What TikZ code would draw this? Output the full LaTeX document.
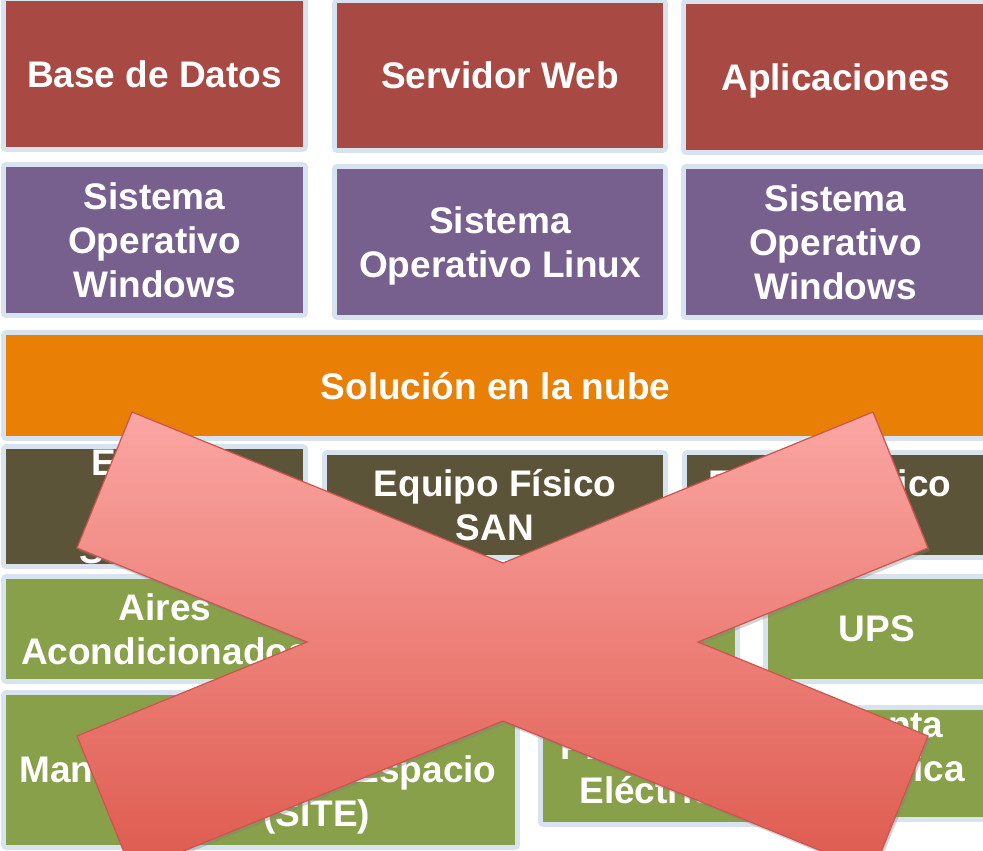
\documentclass[tikz,border=0pt]{standalone}
\usepackage{fontspec}
\setmainfont{Liberation Sans}
\usetikzlibrary{shadows}

\definecolor{rojo}{RGB}{168,74,67}
\definecolor{morado}{RGB}{119,96,141}
\definecolor{naranja}{RGB}{233,127,4}
\definecolor{oliva}{RGB}{92,84,56}
\definecolor{verde}{RGB}{137,160,74}
\definecolor{marco}{RGB}{216,227,240}
\definecolor{cruzarriba}{RGB}{251,166,163}
\definecolor{cruzabajo}{RGB}{222,90,78}
\definecolor{cruzborde}{RGB}{205,84,76}

\begin{document}
\begin{tikzpicture}[x=1pt, y=-1pt,
        letra/.style={font=\bfseries\fontsize{37}{44}\selectfont, text=white, align=center, text depth=0pt},
        caja/.style={letra, rectangle, inner sep=0pt,
            preaction={draw=marco, line width=10pt, line join=round}},
        texto/.style={letra, inner sep=0pt},
        cruz/.style={draw=cruzborde, line width=1.2pt, line join=miter,
            top color=cruzarriba, bottom color=cruzabajo,
            drop shadow={opacity=0.35, shadow xshift=2pt, shadow yshift=-3pt}}]
        \useasboundingbox (0,0) rectangle (983,851);

        \node[caja, fill=rojo, minimum width=297pt, minimum height=146pt] (bd) at (154.5,74) {Base de Datos};
        \node[caja, fill=rojo, minimum width=326pt, minimum height=145pt] (web) at (500,75.5) {Servidor Web};
        \node[caja, fill=rojo, minimum width=299pt, minimum height=146pt] (apl) at (835.5,77) {Aplicaciones};

        \node[caja, fill=morado, minimum width=297pt, minimum height=146pt] (win1) at (154.5,240) {Sistema\\Operativo\\Windows};
        \node[caja, fill=morado, minimum width=326pt, minimum height=146pt] (linux) at (500,242) {Sistema\\Operativo Linux};
        \node[caja, fill=morado, minimum width=299pt, minimum height=146pt] (win2) at (835.5,242) {Sistema\\Operativo\\Windows};

        \node[caja, fill=naranja, minimum width=979pt, minimum height=101pt] (nube) at (495.5,385.5) {Solución en la nube};

        \node[caja, fill=oliva, minimum width=297pt, minimum height=101pt] (serv) at (154.5,506.5) {Equipo\\Físico\\Servidor};
        \node[caja, fill=oliva, minimum width=336pt, minimum height=100pt] (san) at (495,505) {Equipo Físico\\SAN};
        \node[caja, fill=oliva, minimum width=298pt, minimum height=100pt] (red) at (836,505) {};
        \node[texto] (redtxt) at (830,505) {Equipo Físico\\Redes};

        \node[caja, fill=verde, minimum width=318pt, minimum height=100pt] (aires) at (165,629) {Aires\\Acondicionados};
        \node[caja, fill=verde, minimum width=389pt, minimum height=100pt] (medio) at (540.5,629) {};
        \node[caja, fill=verde, minimum width=218pt, minimum height=100pt] (ups) at (877,629) {UPS};

        \node[caja, fill=verde, minimum width=509pt, minimum height=150pt] (site) at (260.5,770) {};
        \node[texto] (sitetxt) at (258,791.5) {Mantenimiento del Espacio\\Físico (SITE)};
        \node[caja, fill=verde, minimum width=227pt, minimum height=109pt] (prot) at (656.5,767.5) {Protección\\Eléctrica};
        \node[caja, fill=verde, minimum width=192pt, minimum height=107pt] (planta) at (888,763.5) {};
        \node[texto] (plantatxt) at (888,746) {Planta\\Eléctrica};

        \coordinate (xa) at (132,412);
        \coordinate (xb) at (503,563);
        \coordinate (xc) at (873,412);
        \coordinate (xd) at (928,548);
        \coordinate (xe) at (698,642);
        \coordinate (xf) at (928,736);
        \coordinate (xg) at (873,872);
        \coordinate (xh) at (503,721);
        \coordinate (xi) at (132,872);
        \coordinate (xj) at (77,736);
        \coordinate (xk) at (307,642);
        \coordinate (xl) at (77,548);

        \draw[cruz] (xa) -- (xb) -- (xc) -- (xd) -- (xe) -- (xf) -- (xg) -- (xh) -- (xi) -- (xj) -- (xk) -- (xl) -- cycle;
    \end{tikzpicture}
\end{document}
